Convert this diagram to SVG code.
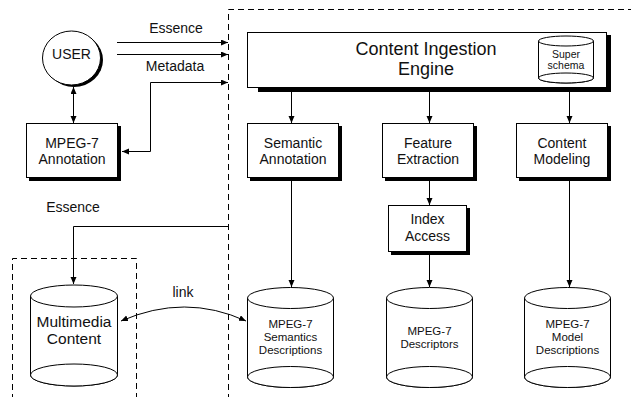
<svg xmlns="http://www.w3.org/2000/svg" width="631" height="397" viewBox="0 0 631 397">
  <defs>
    <marker id="arrow" markerUnits="userSpaceOnUse" markerWidth="8" markerHeight="7" refX="7" refY="3" orient="auto-start-reverse">
      <path d="M0,0 L7,3 L0,6 z" fill="#000"/>
    </marker>
  </defs>
  <style>
    text { font-family: "Liberation Sans", Arial, sans-serif; fill: #111; text-anchor: middle; }
    .t14 { font-size: 14px; }
    .t18 { font-size: 18px; }
    .t15 { font-size: 15.5px; }
    .t11 { font-size: 11.5px; }
    .t10 { font-size: 10.5px; }
    .box { fill: #fff; stroke: #000; stroke-width: 1; }
    .shadow { fill: #000; }
    .dash { fill: none; stroke: #000; stroke-width: 1; stroke-dasharray: 6 4; }
    .wire { fill: none; stroke: #000; stroke-width: 1; }
    .cyl { fill: #fff; stroke: #000; stroke-width: 1; }
  </style>

  <rect width="631" height="397" fill="#fff"/>

  <!-- dashed boundaries -->
  <g id="boundaries">
    <path class="dash" d="M228.5,400 V9.5 H640"/>
    <path class="dash" d="M12.5,400 V258.5 H136.5 V400"/>
  </g>

  <!-- labels on the connectors -->
  <g id="labels">
    <text class="t14" x="176" y="33">Essence</text>
    <text class="t14" x="175" y="71">Metadata</text>
    <text class="t14" x="73" y="212">Essence</text>
    <text class="t14" x="183" y="297">link</text>
  </g>

  <!-- nodes -->
  <g id="user">
    <ellipse cx="74" cy="60" rx="29" ry="27" class="shadow"/>
    <ellipse cx="71.5" cy="58" rx="29" ry="27" class="box"/>
    <text class="t14" x="71.5" y="59">USER</text>
  </g>

  <g id="mpeg7-annotation">
    <rect x="29" y="126" width="92" height="55" class="shadow"/>
    <rect x="26.5" y="123.5" width="91" height="54" class="box"/>
    <text class="t14" x="72" y="148">MPEG-7</text>
    <text class="t14" x="72" y="164">Annotation</text>
  </g>

  <g id="ingestion-engine">
    <path class="shadow" d="M604,35 H611 V92 H258 V86 H604 z"/>
    <rect x="247.5" y="32.5" width="359" height="55" class="box"/>
    <text class="t18" x="426" y="55">Content Ingestion</text>
    <text class="t18" x="426" y="75">Engine</text>
  </g>

  <g id="super-schema">
    <path class="cyl" d="M538.5,41 V78 A27.5,5 0 0 0 593.5,78 V41"/>
    <ellipse cx="566" cy="41" rx="27.5" ry="5" class="cyl"/>
    <ellipse cx="566" cy="78" rx="27.5" ry="5" class="cyl"/>
    <text class="t10" x="566" y="58">Super</text>
    <text class="t10" x="566" y="69">schema</text>
  </g>

  <g id="semantic-annotation">
    <rect x="250" y="126" width="92" height="55" class="shadow"/>
    <rect x="247.5" y="123.5" width="91" height="54" class="box"/>
    <text class="t14" x="293" y="148">Semantic</text>
    <text class="t14" x="293" y="164">Annotation</text>
  </g>

  <g id="feature-extraction">
    <rect x="385" y="126" width="92" height="55" class="shadow"/>
    <rect x="382.5" y="123.5" width="91" height="54" class="box"/>
    <text class="t14" x="428" y="148">Feature</text>
    <text class="t14" x="428" y="164">Extraction</text>
  </g>

  <g id="content-modeling">
    <rect x="519" y="126" width="92" height="55" class="shadow"/>
    <rect x="516.5" y="123.5" width="91" height="54" class="box"/>
    <text class="t14" x="562" y="148">Content</text>
    <text class="t14" x="562" y="164">Modeling</text>
  </g>

  <g id="index-access">
    <rect x="391" y="208" width="79" height="47" class="shadow"/>
    <rect x="388.5" y="205.5" width="78" height="46" class="box"/>
    <text class="t14" x="427.5" y="224">Index</text>
    <text class="t14" x="427.5" y="241">Access</text>
  </g>

  <g id="multimedia-content">
    <path class="cyl" d="M30.5,296 V375 A43.5,11 0 0 0 117.5,375 V296"/>
    <ellipse cx="74" cy="296" rx="43.5" ry="11" class="cyl"/>
    <ellipse cx="74" cy="375" rx="43.5" ry="11" class="cyl"/>
    <text class="t15" x="74" y="327">Multimedia</text>
    <text class="t15" x="74" y="344">Content</text>
  </g>

  <g id="semantics-descriptions">
    <path class="cyl" d="M247.5,298 V377 A43,10.5 0 0 0 333.5,377 V298"/>
    <ellipse cx="290.5" cy="298" rx="43" ry="10.5" class="cyl"/>
    <ellipse cx="290.5" cy="377" rx="43" ry="10.5" class="cyl"/>
    <text class="t11" x="290.5" y="328">MPEG-7</text>
    <text class="t11" x="290.5" y="341">Semantics</text>
    <text class="t11" x="290.5" y="354">Descriptions</text>
  </g>

  <g id="descriptors">
    <path class="cyl" d="M386.5,298 V377 A43,10.5 0 0 0 472.5,377 V298"/>
    <ellipse cx="429.5" cy="298" rx="43" ry="10.5" class="cyl"/>
    <ellipse cx="429.5" cy="377" rx="43" ry="10.5" class="cyl"/>
    <text class="t11" x="429.5" y="335">MPEG-7</text>
    <text class="t11" x="429.5" y="348">Descriptors</text>
  </g>

  <g id="model-descriptions">
    <path class="cyl" d="M524.5,298 V377 A43,10.5 0 0 0 610.5,377 V298"/>
    <ellipse cx="567.5" cy="298" rx="43" ry="10.5" class="cyl"/>
    <ellipse cx="567.5" cy="377" rx="43" ry="10.5" class="cyl"/>
    <text class="t11" x="567.5" y="328">MPEG-7</text>
    <text class="t11" x="567.5" y="341">Model</text>
    <text class="t11" x="567.5" y="354">Descriptions</text>
  </g>

  <!-- connectors -->
  <g id="connectors">
    <path class="wire" d="M117,42.5 H228" marker-end="url(#arrow)"/>
    <path class="wire" d="M117,54.5 H228" marker-end="url(#arrow)"/>
    <path class="wire" d="M122,151.5 H150.5 V82.5 H228" marker-start="url(#arrow)" marker-end="url(#arrow)"/>
    <path class="wire" d="M73.5,87 V123" marker-start="url(#arrow)" marker-end="url(#arrow)"/>
    <path class="wire" d="M291.5,92 V123" marker-end="url(#arrow)"/>
    <path class="wire" d="M429.5,92 V123" marker-end="url(#arrow)"/>
    <path class="wire" d="M569.5,92 V123" marker-end="url(#arrow)"/>
    <path class="wire" d="M429.5,181 V205" marker-end="url(#arrow)"/>
    <path class="wire" d="M291.5,181 V287" marker-end="url(#arrow)"/>
    <path class="wire" d="M429.5,255 V287" marker-end="url(#arrow)"/>
    <path class="wire" d="M569.5,181 V287" marker-end="url(#arrow)"/>
    <path class="wire" d="M228,226.5 H73.5 V284" marker-end="url(#arrow)"/>
    <path class="wire" d="M121,321 Q185,293 246,321" marker-start="url(#arrow)" marker-end="url(#arrow)"/>
  </g>
</svg>
